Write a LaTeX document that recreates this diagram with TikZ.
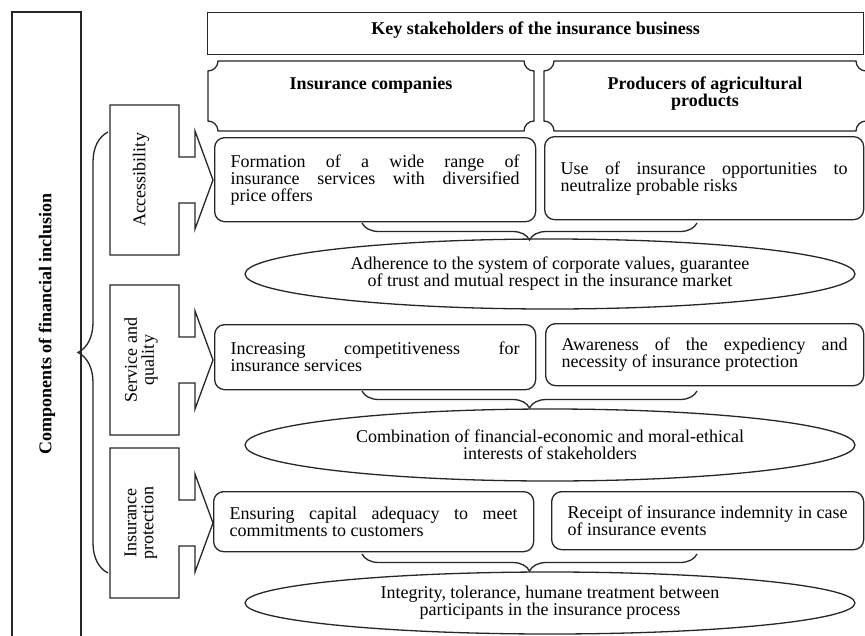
\documentclass[tikz,border=0pt]{standalone}
\usepackage{fontspec}
\setmainfont{Liberation Serif}
\usetikzlibrary{shapes.geometric, decorations.pathreplacing, positioning}
\hyphenpenalty=10000
\exhyphenpenalty=10000

% box with hollowed (inward) corners: x1 y1 x2 y2, y counted downwards
\newcommand{\plaque}[4]{%
	\draw[frame] (#1+10,#2) -- (#3-10,#2) .. controls (#3-10,#2+5.5) and (#3-5.5,#2+10) .. (#3,#2+10)
		-- (#3,#4-10) .. controls (#3-5.5,#4-10) and (#3-10,#4-5.5) .. (#3-10,#4)
		-- (#1+10,#4) .. controls (#1+10,#4-5.5) and (#1+5.5,#4-10) .. (#1,#4-10)
		-- (#1,#2+10) .. controls (#1+5.5,#2+10) and (#1+10,#2+5.5) .. (#1+10,#2) -- cycle;}

\begin{document}
\begin{tikzpicture}[x=1pt, y=-1pt, line width=1.3pt, every node/.style={font=\fontsize{18}{17}\selectfont}]
		\tikzstyle{frame}=[draw=black!85]
		\tikzstyle{headline}=[font=\fontsize{18}{17}\selectfont\bfseries, align=center]
		\tikzstyle{effectbox}=[draw=black!85, rounded corners=10pt, anchor=north west, align=justify, inner xsep=16pt, inner ysep=4pt]
		\tikzstyle{valueoval}=[draw=black!85, ellipse, align=center, minimum width=610pt, inner sep=0pt]
		\tikzstyle{bracket}=[draw=black!85, decorate, decoration={brace, amplitude=17pt}]

		\useasboundingbox (0,0) rectangle (865,635);
		\clip (0,0) rectangle (865,635);

		% components column
		\draw[frame] (12,645) -- (12,12) -- (81,12) -- (81,645);
		\node[headline, rotate=90] (fintitle) at (47,324) {Components of financial inclusion};

		\foreach \ya/\nm/\lab in {105/acc/Accessibility, 285/serv/{Service and\\quality}, 448/prot/{Insurance\\protection}} {
			\draw[frame] (110,\ya) -- (179,\ya) -- (179,\ya+52) -- (195,\ya+52) -- (195,\ya+26) -- (213,\ya+75)
				-- (195,\ya+124) -- (195,\ya+98) -- (179,\ya+98) -- (179,\ya+150) -- (110,\ya+150) -- cycle;
			\node[rotate=90, align=center] (\nm) at (141,\ya+75) {\lab};
		}
		\draw[bracket, decoration={amplitude=30pt}] (108,573) -- (108,132);

		% stakeholders
		\node[frame, headline, minimum width=656pt, minimum height=42pt, text depth=10pt, anchor=north west] (key) at (207,12) {Key stakeholders of the insurance business};
		\plaque{208}{61}{534}{131}
		\plaque{544}{61}{866}{131}
		\node[headline, anchor=north, inner sep=0pt] (insco) at (371,76) {Insurance companies};
		\node[headline, anchor=north, inner sep=0pt] (agro) at (705,76) {Producers of agricultural\\products};

		% accessibility
		\node[effectbox, text width=289pt, minimum height=84pt] (form) at (214,137) {Formation of a wide range of\linebreak insurance services with diversified\linebreak price offers};
		\node[effectbox, text width=287pt, minimum height=83pt] (use) at (544,136) {Use of insurance opportunities to\linebreak neutralize probable risks};
		\draw[bracket] (697,223) -- (362,223);
		\node[valueoval, minimum height=70pt] (adh) at (550,274) {Adherence to the system of corporate values, guarantee\\of trust and mutual respect in the insurance market};

		% service and quality
		\node[effectbox, text width=289pt, minimum height=65pt] (incr) at (214,324) {Increasing competitiveness for\linebreak insurance services};
		\node[effectbox, text width=286pt, minimum height=62pt] (aware) at (545,323) {Awareness of the expediency and\linebreak necessity of insurance protection};
		\draw[bracket] (697,391) -- (362,391);
		\node[valueoval, minimum height=72pt] (comb) at (550,445) {Combination of financial-economic and moral-ethical\\interests of stakeholders};

		% insurance protection
		\node[effectbox, text width=288pt, minimum height=60pt] (ensure) at (213,491) {Ensuring capital adequacy to meet\linebreak commitments to customers};
		\node[effectbox, text width=280pt, minimum height=58pt] (receipt) at (551,491) {Receipt of insurance indemnity in case\linebreak of insurance events};
		\draw[bracket] (697,554) -- (362,554);
		\node[valueoval, minimum height=62pt] (integ) at (550,603) {Integrity, tolerance, humane treatment between\\participants in the insurance process};
\end{tikzpicture}
\end{document}
